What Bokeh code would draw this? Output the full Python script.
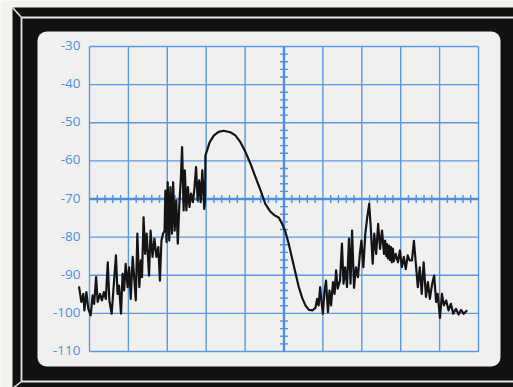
import math
from bokeh.plotting import figure
from bokeh.models import Range1d
from bokeh.core.properties import value
from bokeh.embed import file_html
from bokeh.resources import INLINE

# ---------------- data ----------------
y_ticks = [-30, -40, -50, -60, -70, -80, -90, -100, -110]
y_labels = ["-30", "-40", "-50", "-60", "-70", "-80", "-90", "-100", "-110"]
x_ticks = [0, 1, 2, 3, 4, 5, 6, 7, 8, 9, 10]
center_x = 5
center_db = -70

trace_x = [
    -0.27, -0.21, -0.16, -0.13, -0.08, -0.03, 0.03, 0.08, 0.12, 0.17, 0.21, 0.27,
    0.32, 0.37, 0.42, 0.47, 0.51, 0.57, 0.62, 0.68, 0.72, 0.76, 0.81, 0.85, 0.89,
    0.93, 0.98, 1.02, 1.06, 1.11, 1.16, 1.19, 1.23, 1.28, 1.32, 1.35, 1.39, 1.43,
    1.47, 1.53, 1.57, 1.62, 1.67, 1.72, 1.77, 1.81, 1.85, 1.89, 1.93, 1.95, 1.98,
    2.01, 2.05, 2.08, 2.12, 2.15, 2.19, 2.23, 2.27, 2.31, 2.35, 2.38, 2.42, 2.45,
    2.49, 2.53, 2.57, 2.61, 2.66, 2.70, 2.74, 2.78, 2.82, 2.86, 2.90, 2.95, 2.97,
    2.98, 3.02,
    3.09, 3.20, 3.32, 3.45, 3.62, 3.75, 3.88, 4.01, 4.14, 4.27, 4.40, 4.52, 4.64,
    4.76, 4.87, 4.95, 5.04, 5.12, 5.21, 5.30, 5.38, 5.47, 5.55, 5.64, 5.74, 5.81,
    5.85, 5.89, 5.93, 5.96, 6.00, 6.04, 6.08, 6.13, 6.17, 6.21, 6.26, 6.30, 6.34,
    6.38, 6.44, 6.49, 6.53, 6.57, 6.62, 6.67, 6.71, 6.75, 6.80, 6.85, 6.90, 6.95,
    6.99, 7.04, 7.09, 7.14, 7.19, 7.23, 7.28, 7.32, 7.37, 7.42, 7.47, 7.52, 7.57,
    7.60, 7.63, 7.65, 7.67, 7.70, 7.72, 7.75, 7.77, 7.80, 7.82, 7.87, 7.93, 7.98,
    8.03, 8.08, 8.13, 8.18, 8.23,
    8.29, 8.34, 8.39, 8.44, 8.49, 8.54, 8.59, 8.65, 8.70, 8.75, 8.81, 8.86, 8.91,
    8.95, 9.01, 9.06, 9.11, 9.17, 9.23, 9.29, 9.35, 9.42, 9.49, 9.55, 9.62, 9.71,
]
trace_db = [
    -92.9, -97.0, -94.9, -99.2, -94.4, -98.8, -100.5, -95.3, -97.5, -90.5, -97.0, -94.9,
    -96.6, -94.4, -96.2, -86.6, -96.6, -100.1, -93.1, -84.8, -94.9, -92.7, -100.1, -89.6, -94.0,
    -87.0, -93.1, -87.9, -96.2, -85.2, -92.2, -96.6, -79.1, -93.1, -86.1, -90.5, -74.8, -84.4,
    -79.1, -90.1, -78.3, -85.2, -80.4, -85.2, -82.6, -91.4, -80.9, -79.1, -78.3, -67.8, -81.3,
    -65.6, -80.9, -66.9, -79.1, -65.6, -78.3, -70.4, -81.7, -71.3, -64.3, -56.4, -73.0, -62.5,
    -73.0, -66.9, -72.1, -68.6, -70.8, -66.9, -61.6, -70.4, -65.1, -70.8, -62.5, -72.6, -70.4,
    -58.6, -57.3,
    -55.1, -53.3, -52.4, -52.1, -52.5, -53.3, -55.1, -57.7, -60.8, -64.3, -67.8, -71.3, -73.2,
    -74.3, -74.9, -76.5, -78.7, -81.7, -85.7, -89.6, -93.1, -96.0, -97.9, -99.1, -99.2, -98.5,
    -96.2, -97.9, -93.1, -96.6, -100.1, -94.4, -91.4, -99.7, -94.0, -97.9, -91.8, -94.9, -88.7,
    -93.5, -91.4, -81.7, -92.2, -87.9, -93.1, -80.4, -92.2, -78.3, -93.3, -87.9, -90.5, -84.4,
    -80.9, -87.9, -79.1, -74.8, -71.3, -77.4, -87.0, -79.1, -84.4, -76.5, -83.1, -78.3, -84.4,
    -80.9, -85.0, -81.8, -85.6, -82.2, -86.0, -82.6, -86.6, -83.0, -86.4, -84.4, -86.6, -83.5,
    -87.9, -85.2, -88.4, -84.8, -86.1,
    -86.1, -81.0, -87.0, -93.1, -87.9, -94.9, -86.6, -95.7, -91.8, -96.2, -92.2, -90.1, -97.0,
    -94.9, -101.2, -94.9, -97.9, -96.6, -99.2, -97.5, -100.1, -98.8, -100.3, -99.1, -100.1, -99.2,
]

# ---------------- layout ----------------
W, H = 513, 387
PX_DIV = 38.9      # pixels per horizontal division
PX_DB = 3.8125     # pixels per dB
GRID_LEFT = 89     # px of the grid's left edge
GRID_TOP = 46      # px of the grid's top edge
top_db = y_ticks[0]

x_range = Range1d(x_ticks[0] - GRID_LEFT / PX_DIV, x_ticks[0] + (W - GRID_LEFT) / PX_DIV)
y_range = Range1d(top_db - (H - GRID_TOP) / PX_DB, top_db + GRID_TOP / PX_DB)


def fx(px):
    return x_range.start + px / PX_DIV


def fy(py):
    return y_range.end - py / PX_DB


BLUE = "#5c98e2"
AXIS_BLUE = "#4f8fe0"
TEXT_BLUE = "#4f90dc"

p = figure(width=W, height=H, x_range=x_range, y_range=y_range,
           output_backend="svg", toolbar_location=None, min_border=0,
           x_axis_location=None, y_axis_location=None)
p.grid.visible = False
p.outline_line_color = None
p.background_fill_color = "#f3f2ee"
p.border_fill_color = "#f3f2ee"

# bezel
p.quad(left=fx(12), right=fx(540), top=fy(7), bottom=fy(420),
       fill_color="#111111", line_color=None)
p.line([fx(21), fx(21)], [fy(17), fy(381)], line_color="#e4e4e4", line_width=1.8)
p.line([fx(21), fx(540)], [fy(17), fy(17)], line_color="#e4e4e4", line_width=1.8)
p.line([fx(21), fx(540)], [fy(381), fy(381)], line_color="#e4e4e4", line_width=1.8)
p.line([fx(12), fx(21)], [fy(7), fy(17)], line_color="#e4e4e4", line_width=1.5)
p.line([fx(12), fx(21)], [fy(388), fy(381)], line_color="#e4e4e4", line_width=1.5)
# screen
p.quad(left=fx(37), right=fx(500), top=fy(31), bottom=fy(366),
       fill_color="#f0f1ef", line_color=None, border_radius=9)

# grid
x_lo, x_hi = x_ticks[0], x_ticks[-1]
y_lo, y_hi = y_ticks[-1], y_ticks[0]
p.segment(x0=x_ticks, y0=[y_lo] * len(x_ticks), x1=x_ticks, y1=[y_hi] * len(x_ticks),
          line_color=BLUE, line_width=1.4)
p.segment(x0=[x_lo] * len(y_ticks), y0=y_ticks, x1=[x_hi] * len(y_ticks), y1=y_ticks,
          line_color=BLUE, line_width=1.4)

# centre graticule with minor ticks
p.segment(x0=[center_x], y0=[y_lo], x1=[center_x], y1=[y_hi], line_color=AXIS_BLUE, line_width=2.4)
p.segment(x0=[x_lo], y0=[center_db], x1=[x_hi], y1=[center_db], line_color=AXIS_BLUE, line_width=2.4)
minor_x = [i / 5 for i in range(x_lo * 5, x_hi * 5 + 1) if i % 5]
minor_y = [v for v in range(y_lo, y_hi + 1, 2) if v % 10]
p.dash(x=minor_x, y=[center_db] * len(minor_x), size=8, angle=math.pi / 2,
       line_color=AXIS_BLUE, line_width=1.4)
p.dash(x=[center_x] * len(minor_y), y=minor_y, size=8,
       line_color=AXIS_BLUE, line_width=1.4)

# tick labels
p.text(x=[x_lo] * len(y_ticks), y=y_ticks, text=y_labels, text_align="right",
       text_baseline="middle", x_offset=-9, y_offset=-1, text_color=TEXT_BLUE,
       text_font=value("Open Sans"), text_font_size="13.5px", text_font_style="normal")

# trace
p.line(trace_x, trace_db, line_color="#141414", line_width=2.2, line_join="round")

open("out.html", "w").write(file_html(p, INLINE))
